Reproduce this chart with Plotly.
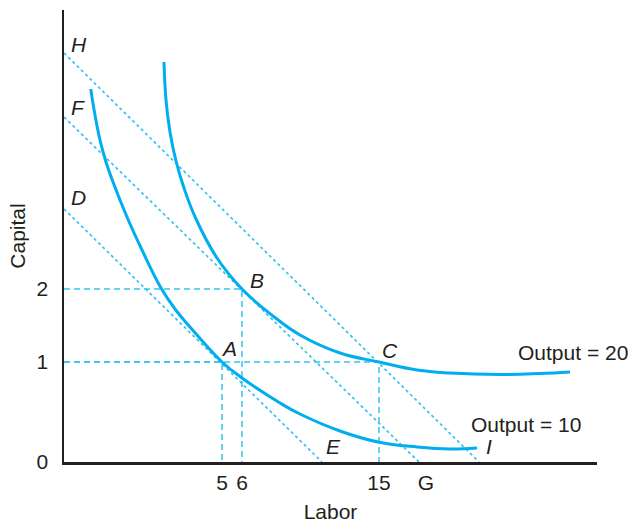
import plotly.graph_objects as go

# ---- data (chart units: origin at the axes corner) ----
# Isoquant "Output = 10"
iso10_x = [26.7, 31, 36, 42, 49, 63, 78, 97, 111, 126, 158, 178, 216, 236, 276, 314, 353, 386, 413]
iso10_y = [373, 347, 322, 300, 280, 245, 212, 174, 153, 135, 100, 84, 59, 48, 31, 20, 15, 13, 14]
# Isoquant "Output = 20"
iso20_x = [100, 102, 106, 112, 120, 132, 153, 178, 209, 236, 276, 315, 353, 386, 436, 476, 506]
iso20_y = [400, 362, 330, 301, 274, 243, 204, 173, 146, 127, 109, 100, 92, 89, 87.5, 88.5, 90]

# Isocost lines (start on capital axis, end on labor axis)
isocost_names = ["DE", "FG", "HI"]
isocost_k0 = [253, 345, 409]   # capital intercepts
isocost_l0 = [258, 355, 415]   # labor intercepts

# Points of interest A, B, C
pt_names = ["A", "B", "C"]
pt_x = [158, 178, 315]
pt_y = [100, 173, 100]

# Axis ticks
x_tickvals = [158, 178, 315, 362]
x_ticktext = ["5", "6", "15", "G"]
y_tickvals = [0, 100, 173]
y_ticktext = ["0", "1", "2"]

# Letter labels
lab_text = ["H", "F", "D", "A", "B", "C", "E", "I"]
lab_x = [15, 14, 14, 165, 193, 326, 269, 425]
lab_y = [418, 355, 265, 114, 182, 112, 16, 16]

out_text = ["Output = 20", "Output = 10"]
out_x = [452, 404.5]
out_y = [110, 38]

CURVE = "#00aeef"
DASH = "#33c3ec"
INK = "#231f20"
FONT = "Liberation Sans, Arial, sans-serif"
FS = 21

fig = go.Figure()

# isocost lines (fine dotted)
for k0, l0, nm in zip(isocost_k0, isocost_l0, isocost_names):
    fig.add_trace(go.Scatter(x=[0, l0], y=[k0, 0], mode="lines", name=nm,
                             line=dict(color=DASH, width=1.7, dash="3px,3px"),
                             hoverinfo="skip", showlegend=False))

# guide lines (longer dashes)
for px, py in zip(pt_x, pt_y):
    fig.add_trace(go.Scatter(x=[0, px, px], y=[py, py, 0], mode="lines",
                             line=dict(color=DASH, width=1.5, dash="6px,4px"),
                             hoverinfo="skip", showlegend=False))

# isoquants
fig.add_trace(go.Scatter(x=iso10_x, y=iso10_y, mode="lines",
                         line=dict(color=CURVE, width=3, shape="spline", smoothing=1.2),
                         showlegend=False))
fig.add_trace(go.Scatter(x=iso20_x, y=iso20_y, mode="lines",
                         line=dict(color=CURVE, width=3, shape="spline", smoothing=1.2),
                         showlegend=False))

annotations = []
for t, x, y in zip(lab_text, lab_x, lab_y):
    annotations.append(dict(x=x, y=y, xref="x", yref="y", text=t, showarrow=False,
                            font=dict(family=FONT, size=FS, color=INK, style="italic"),
                            xanchor="center", yanchor="middle"))
for t, x, y in zip(out_text, out_x, out_y):
    annotations.append(dict(x=x, y=y, xref="x", yref="y", text=t, showarrow=False,
                            font=dict(family=FONT, size=FS, color=INK),
                            xanchor="left", yanchor="middle"))

fig.update_layout(
    width=629, height=523,
    margin=dict(l=64, r=32, t=10, b=61),
    paper_bgcolor="white", plot_bgcolor="white",
    font=dict(family=FONT, size=FS, color=INK),
    annotations=annotations,
    xaxis=dict(range=[0, 533], showgrid=False, zeroline=False, automargin=False,
               showline=True, linecolor=INK, linewidth=2.5,
               tickvals=x_tickvals, ticktext=x_ticktext,
               ticks="outside", ticklen=0, tickcolor="rgba(0,0,0,0)",
               tickfont=dict(family=FONT, size=FS, color=INK),
               title=dict(text="Labor", standoff=17,
                          font=dict(family=FONT, size=FS, color=INK))),
    yaxis=dict(range=[0, 452], showgrid=False, zeroline=False, automargin=False,
               showline=True, linecolor=INK, linewidth=2.5,
               tickvals=y_tickvals, ticktext=y_ticktext,
               ticks="outside", ticklen=9, tickcolor="rgba(0,0,0,0)",
               tickfont=dict(family=FONT, size=FS, color=INK),
               title=dict(text="Capital", standoff=6,
                          font=dict(family=FONT, size=FS, color=INK))),
)

fig.write_html("out.html",
               config={"displayModeBar": False, "staticPlot": True},
               post_script="document.body.style.margin='0';document.body.style.overflow='hidden';")
